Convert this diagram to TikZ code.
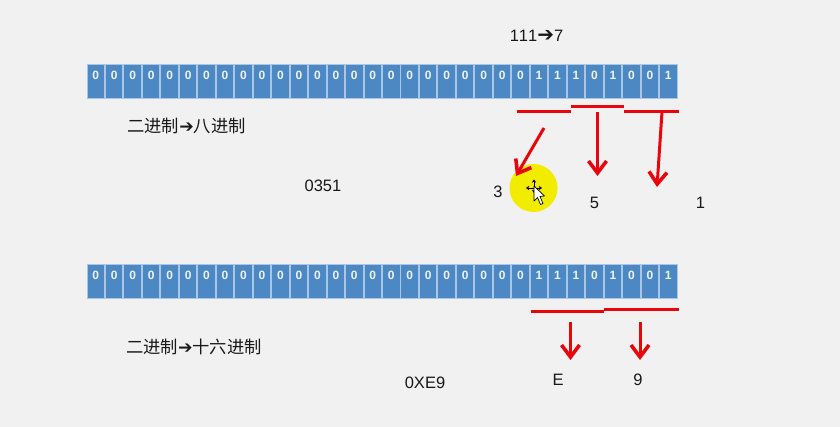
\documentclass[tikz,border=0pt]{standalone}
\usepackage{fontspec}
\setmainfont[Kerning=Off]{Liberation Sans}
\newfontfamily\cjk{Noto Sans CJK SC}
\newfontfamily\arrowfont{DejaVu Sans}
\usetikzlibrary{arrows.meta}
\definecolor{cellblue}{HTML}{4C88C4}
\definecolor{celledge}{HTML}{A9C6E4}
\definecolor{bgc}{HTML}{F1F1F1}
\definecolor{redline}{HTML}{E8060C}
\definecolor{spot}{HTML}{F2EC00}
\newcommand{\blackarrow}{{\arrowfont\fontsize{20}{20}\selectfont ➔}}
\tikzset{
  x=1pt,y=-1pt,
  bitcell/.style={draw=celledge,line width=1pt,fill=cellblue,minimum width=17.5pt,minimum height=34pt,inner sep=0pt,anchor=north west,text=white!90!cellblue,font=\fontsize{12}{12}\selectfont\bfseries},
  label/.style={inner sep=0pt,text=black!90,font=\fontsize{16.5}{18}\selectfont},
  cnlabel/.style={inner sep=0pt,text=black!90,font=\fontsize{17.3}{18}\selectfont\cjk},
  bar/.style={draw=redline,line width=3pt},
  redarrow/.style={draw=redline,line width=3pt,-{Straight Barb[length=12pt,width=18pt,line width=3.6pt]}},
  movearrow/.style={draw=black,line width=.9pt,-{Stealth[length=3.2pt,width=4.4pt]}},
}
\begin{document}
\begin{tikzpicture}
\useasboundingbox[fill=bgc] (0,0) rectangle (840,427);
% rows of bits
\foreach \rowy/\rowname in {64.5/a,264/b}{
  \foreach \i in {0,...,31}{
    \pgfmathsetmacro{\cx}{86+\i*18.47+.5}
    \pgfmathtruncatemacro{\bitv}{(\i==24||\i==25||\i==26||\i==28||\i==31)?1:0}
    \node[bitcell] (\rowname\i) at (\cx,\rowy) {\raisebox{13pt}{\bitv}};
  }
}
% labels
\node[label] (t7) at (536.5,35.5) {111\blackarrow 7};
\node[cnlabel] (c8) at (186.5,126) {二进制{\arrowfont\fontsize{17.3}{17.3}\selectfont ➔}八进制};
\node[cnlabel] (c16) at (194,346.5) {二进制{\arrowfont\fontsize{17.3}{17.3}\selectfont ➔}十六进制};
\node[label] (oct) at (323,186) {0351};
\node[label] (hex) at (425,383) {0XE9};
% highlight and cursor
\fill[fill=spot] (533.5,188) circle (24);
\draw[movearrow] (534,186) -- (534,179.5);
\draw[movearrow] (534,186) -- (534,193);
\draw[movearrow] (534,188) -- (526,188);
\draw[movearrow] (534,188) -- (542,188);
\draw[fill=white,draw=black,line width=.7pt,line join=round] (534,186) -- (534,201) -- (537.5,197.5) -- (540.5,204.5) -- (543,203.5) -- (540,196.5) -- (544.5,196) -- cycle;
\node[label] (n3) at (498,192) {3};
\node[label] (n5) at (594.5,202.5) {5};
\node[label] (n1) at (700.5,202.5) {1};
\node[label] (nE) at (558,380) {E};
\node[label] (n9) at (638,380) {9};
% top brackets
\coordinate (b1l) at (517,112); \coordinate (b1r) at (571,112);
\coordinate (b2l) at (571,107); \coordinate (b2r) at (624,107);
\coordinate (b3l) at (624,112); \coordinate (b3r) at (679,112);
\draw[bar] (b1l) -- (b1r);
\draw[bar] (b2l) -- (b2r);
\draw[bar] (b3l) -- (b3r);
\coordinate (a1s) at (544,128); \coordinate (a1e) at (516,176);
\coordinate (a2s) at (597.5,112); \coordinate (a2e) at (597.5,176);
\coordinate (a3s) at (662,112); \coordinate (a3e) at (657,187);
\draw[redarrow] (a1s) -- (a1e);
\draw[redarrow] (a2s) -- (a2e);
\draw[redarrow] (a3s) -- (a3e);
% bottom brackets
\coordinate (b4l) at (531,311.5); \coordinate (b4r) at (604,311.5);
\coordinate (b5l) at (604,309.5); \coordinate (b5r) at (679,309.5);
\draw[bar] (b4l) -- (b4r);
\draw[bar] (b5l) -- (b5r);
\coordinate (a4s) at (570.5,322); \coordinate (a4e) at (570.5,360);
\coordinate (a5s) at (640,322); \coordinate (a5e) at (640,360);
\draw[redarrow] (a4s) -- (a4e);
\draw[redarrow] (a5s) -- (a5e);
\end{tikzpicture}
\end{document}
